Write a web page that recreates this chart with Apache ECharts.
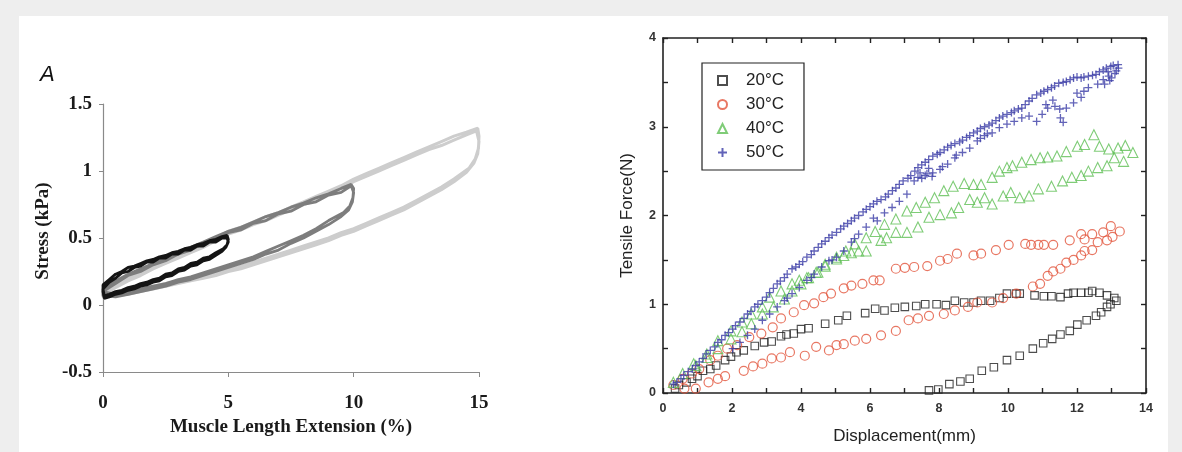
<!DOCTYPE html>
<html>
<head>
<meta charset="utf-8">
<script src="https://cdn.jsdelivr.net/npm/echarts@6/dist/echarts.min.js"></script>
<style>
html,body{margin:0;padding:0;background:#eeeeee;}
#c{width:1182px;height:452px;}
</style>
</head>
<body>
<div id="c"></div>
<script>
// ---------- Panel A: hysteresis loops (x = % extension, y = stress kPa) ----------
const loop5 = [
 [0,0.12],[0.25,0.17],[0.5,0.2],[0.75,0.24],[1,0.25],[1.25,0.28],[1.5,0.29],[1.75,0.32],[2,0.32],[2.25,0.35],[2.5,0.35],[2.75,0.38],[3,0.38],[3.25,0.41],[3.5,0.41],[3.75,0.44],[4,0.44],[4.25,0.47],[4.5,0.47],[4.75,0.5],[4.95,0.5],
 [5,0.47],[4.9,0.43],[4.75,0.40],[4.5,0.37],[4.25,0.34],[4,0.33],[3.75,0.30],[3.5,0.29],[3.25,0.26],[3,0.25],[2.75,0.22],[2.5,0.21],[2.25,0.18],[2,0.17],[1.75,0.15],[1.5,0.14],[1.25,0.12],[1,0.11],[0.75,0.09],[0.5,0.08],[0.25,0.06],[0.05,0.05],[0,0.1],
 [0,0.15],[0.25,0.19],[0.5,0.23],[0.75,0.25],[1,0.28],[1.25,0.29],[1.5,0.31],[1.75,0.33],[2,0.34],[2.25,0.36],[2.5,0.37],[2.75,0.39],[3,0.40],[3.25,0.42],[3.5,0.43],[3.75,0.45],[4,0.46],[4.25,0.48],[4.5,0.49],[4.75,0.51],[4.95,0.52],
 [5,0.49],[4.95,0.45],[4.8,0.42],[4.5,0.39],[4.25,0.36],[4,0.35],[3.75,0.32],[3.5,0.31],[3.25,0.28],[3,0.27],[2.75,0.24],[2.5,0.23],[2.25,0.20],[2,0.19],[1.75,0.17],[1.5,0.16],[1.25,0.14],[1,0.13],[0.75,0.11],[0.5,0.1],[0.25,0.08],[0.05,0.07],[0,0.12]
];
const loop10 = [
 [0,0.1],[0.5,0.16],[1,0.22],[1.5,0.25],[2,0.3],[2.5,0.33],[3,0.38],[3.5,0.41],[4,0.46],[4.5,0.49],[5,0.54],[5.5,0.56],[6,0.61],[6.5,0.63],[7,0.68],[7.5,0.70],[8,0.75],[8.5,0.77],[9,0.82],[9.5,0.84],[9.9,0.89],
 [10,0.84],[9.95,0.77],[9.8,0.71],[9.5,0.66],[9,0.60],[8.5,0.55],[8,0.50],[7.5,0.46],[7,0.41],[6.5,0.38],[6,0.34],[5.5,0.31],[5,0.28],[4.5,0.25],[4,0.22],[3.5,0.19],[3,0.17],[2.5,0.14],[2,0.12],[1.5,0.1],[1,0.08],[0.5,0.06],[0,0.07],
 [0,0.12],[0.5,0.18],[1,0.23],[1.5,0.27],[2,0.31],[2.5,0.35],[3,0.39],[3.5,0.43],[4,0.47],[4.5,0.51],[5,0.55],[5.5,0.58],[6,0.62],[6.5,0.66],[7,0.69],[7.5,0.73],[8,0.76],[8.5,0.80],[9,0.83],[9.5,0.87],[9.9,0.9],
 [10,0.87],[9.97,0.8],[9.85,0.74],[9.6,0.69],[9,0.63],[8.5,0.57],[8,0.52],[7.5,0.48],[7,0.44],[6.5,0.40],[6,0.36],[5.5,0.33],[5,0.30],[4.5,0.27],[4,0.24],[3.5,0.21],[3,0.19],[2.5,0.16],[2,0.14],[1.5,0.12],[1,0.1],[0.5,0.08],[0,0.1]
];
const loop15 = [
 [0,0.08],[0.5,0.13],[1,0.18],[1.5,0.22],[2,0.27],[2.5,0.31],[3,0.35],[3.5,0.39],[4,0.43],[4.5,0.48],[5,0.53],[5.5,0.56],[6,0.6],[6.5,0.63],[7,0.67],[7.5,0.71],[8,0.75],[8.5,0.78],[9,0.83],[9.5,0.87],[10,0.92],[10.5,0.96],[11,1.0],[11.5,1.04],[12,1.08],[12.5,1.12],[13,1.16],[13.5,1.19],[14,1.23],[14.5,1.27],[14.9,1.30],
 [15,1.22],[14.95,1.13],[14.8,1.06],[14.5,0.99],[14,0.92],[13.5,0.86],[13,0.81],[12.5,0.76],[12,0.71],[11.5,0.67],[11,0.63],[10.5,0.59],[10,0.55],[9.5,0.52],[9,0.48],[8.5,0.45],[8,0.42],[7.5,0.39],[7,0.36],[6.5,0.33],[6,0.30],[5.5,0.27],[5,0.25],[4.5,0.22],[4,0.20],[3.5,0.18],[3,0.16],[2.5,0.14],[2,0.12],[1.5,0.1],[1,0.08],[0.5,0.07],[0,0.06],
 [0,0.1],[0.5,0.15],[1,0.2],[1.5,0.24],[2,0.29],[2.5,0.33],[3,0.37],[3.5,0.41],[4,0.46],[4.5,0.5],[5,0.55],[5.5,0.58],[6,0.62],[6.5,0.66],[7,0.69],[7.5,0.73],[8,0.77],[8.5,0.81],[9,0.85],[9.5,0.89],[10,0.94],[10.5,0.98],[11,1.02],[11.5,1.06],[12,1.1],[12.5,1.14],[13,1.18],[13.5,1.22],[14,1.26],[14.5,1.29],[14.95,1.32],
 [15,1.26],[14.98,1.17],[14.85,1.09],[14.6,1.02],[14,0.94],[13.5,0.88],[13,0.83],[12.5,0.78],[12,0.73],[11.5,0.69],[11,0.65],[10.5,0.61],[10,0.57],[9.5,0.54],[9,0.50],[8.5,0.47],[8,0.44],[7.5,0.41],[7,0.38],[6.5,0.35],[6,0.32],[5.5,0.29],[5,0.27],[4.5,0.24],[4,0.22],[3.5,0.2],[3,0.18],[2.5,0.16],[2,0.14],[1.5,0.12],[1,0.1],[0.5,0.09],[0,0.08]
];

// ---------- Panel B: tensile force vs displacement ----------
const legendNames = ['20°C','30°C','40°C','50°C'];
const t20 = [
 [0.35,0.05],[0.46,0.09],[0.68,0.12],[0.84,0.16],[1.0,0.19],[1.16,0.25],[1.37,0.27],[1.54,0.31],[1.80,0.37],[1.97,0.41],[2.13,0.46],[2.34,0.48],[2.66,0.53],[2.93,0.57],[3.15,0.58],[3.42,0.64],[3.58,0.66],[3.79,0.67],[4.0,0.72],[4.22,0.73],[4.70,0.78],[5.08,0.82],[5.33,0.87],[5.86,0.90],[6.15,0.95],[6.42,0.93],[6.72,0.96],[7.01,0.97],[7.34,0.98],[7.60,1.0],[7.93,1.0],[8.2,0.99],[8.46,1.04],[8.73,1.02],[9.0,1.02],[9.22,1.04],[9.48,1.04],[9.75,1.07],[9.97,1.12],[10.24,1.12],[10.34,1.12],[10.77,1.10],[11.04,1.09],[11.26,1.09],[11.52,1.08],[11.74,1.12],[11.9,1.13],[12.12,1.13],[12.33,1.13],[12.44,1.15],[12.65,1.13],[12.87,1.10],[13.08,1.07],[13.14,1.04],
 [12.97,1.0],[12.87,0.97],[12.7,0.91],[12.55,0.87],[12.28,0.82],[12.01,0.77],[11.79,0.70],[11.52,0.66],[11.28,0.61],[11.02,0.56],[10.72,0.50],[10.34,0.42],[9.97,0.37],[9.59,0.29],[9.24,0.25],[8.89,0.16],[8.62,0.13],[8.30,0.10],[7.98,0.04],[7.71,0.03]
];
const t30 = [
 [0.30,0.09],[0.57,0.16],[0.84,0.22],[1.05,0.27],[1.37,0.37],[1.59,0.42],[1.86,0.50],[2.15,0.54],[2.50,0.63],[2.85,0.67],[3.18,0.74],[3.42,0.84],[3.79,0.91],[4.09,0.99],[4.38,1.01],[4.65,1.08],[4.87,1.12],[5.24,1.18],[5.46,1.21],[5.78,1.23],[6.10,1.27],[6.28,1.27],[6.75,1.40],[7.01,1.41],[7.28,1.42],[7.66,1.43],[8.03,1.49],[8.25,1.51],[8.52,1.57],[9.0,1.55],[9.22,1.57],[9.65,1.61],[10.02,1.67],[10.5,1.68],[10.67,1.67],[10.88,1.67],[11.04,1.67],[11.31,1.67],[11.79,1.72],[12.12,1.79],[12.22,1.73],[12.44,1.79],[12.76,1.81],[12.98,1.88],[13.24,1.82],
 [13.03,1.76],[12.87,1.72],[12.6,1.70],[12.44,1.61],[12.22,1.60],[12.12,1.55],[11.9,1.50],[11.69,1.47],[11.52,1.40],[11.31,1.37],[11.15,1.32],[10.93,1.23],[10.72,1.20],[10.24,1.12],[9.86,1.07],[9.54,1.02],[9.11,1.02],[8.84,0.97],[8.46,0.93],[8.14,0.89],[7.71,0.87],[7.39,0.84],[7.12,0.82],[6.75,0.70],[6.32,0.65],[5.89,0.61],[5.56,0.59],[5.24,0.55],[5.03,0.54],[4.81,0.48],[4.44,0.52],[4.11,0.42],[3.68,0.46],[3.42,0.40],[3.15,0.39],[2.88,0.33],[2.61,0.30],[2.34,0.25],[1.80,0.19],[1.59,0.16],[1.32,0.12],[0.95,0.05],[0.62,0.05]
];
const t40 = [
 [0.30,0.12],[0.57,0.22],[0.95,0.31],[1.27,0.40],[1.59,0.50],[1.97,0.61],[2.29,0.69],[2.56,0.78],[2.88,0.89],[3.20,0.97],[3.52,1.06],[3.74,1.15],[4.0,1.23],[4.22,1.30],[4.49,1.36],[4.70,1.43],[5.03,1.53],[5.30,1.60],[5.56,1.68],[5.89,1.75],[6.15,1.82],[6.42,1.90],[6.75,1.96],[7.07,2.05],[7.34,2.09],[7.60,2.15],[7.87,2.20],[8.14,2.28],[8.41,2.33],[8.73,2.36],[9.0,2.35],[9.22,2.35],[9.54,2.43],[9.75,2.50],[9.97,2.54],[10.13,2.56],[10.4,2.60],[10.67,2.63],[10.93,2.65],[11.15,2.66],[11.42,2.67],[11.69,2.72],[12.01,2.78],[12.22,2.80],[12.49,2.91],[12.65,2.78],[12.92,2.75],[13.19,2.76],[13.40,2.79],[13.62,2.71],
 [13.35,2.61],[13.08,2.65],[12.87,2.56],[12.6,2.54],[12.33,2.50],[12.12,2.45],[11.85,2.43],[11.58,2.39],[11.26,2.33],[10.88,2.30],[10.61,2.22],[10.34,2.20],[10.08,2.26],[9.86,2.22],[9.54,2.13],[9.32,2.20],[9.11,2.15],[8.89,2.18],[8.57,2.09],[8.36,2.03],[8.03,2.01],[7.71,1.98],[7.39,1.87],[7.07,1.81],[6.75,1.81],[6.48,1.75],[6.32,1.72],[5.89,1.60],[5.67,1.60],[5.46,1.58],[5.24,1.55],[5.03,1.51],[4.70,1.45],[4.44,1.36],[4.17,1.30],[3.95,1.27],[3.74,1.23],[3.42,1.15],[3.09,1.08],[2.88,0.97],[2.56,0.89],[2.29,0.80],[1.97,0.70],[1.59,0.59],[1.27,0.44],[0.89,0.33]
];
const t50 = [
 [0.30,0.10],[0.52,0.16],[0.73,0.24],[0.95,0.31],[1.16,0.39],[1.37,0.48],[1.59,0.57],[1.80,0.65],[2.02,0.72],[2.23,0.80],[2.45,0.89],[2.66,0.97],[2.88,1.04],[3.09,1.13],[3.31,1.23],[3.52,1.30],[3.74,1.40],[3.95,1.45],[4.17,1.53],[4.38,1.60],[4.60,1.68],[4.81,1.75],[5.03,1.81],[5.24,1.88],[5.46,1.94],[5.67,2.0],[5.89,2.07],[6.10,2.13],[6.32,2.18],[6.53,2.24],[6.75,2.31],[6.96,2.39],[7.18,2.45],[7.39,2.54],[7.60,2.60],[7.82,2.67],[8.03,2.71],[8.25,2.77],[8.46,2.81],[8.68,2.85],[8.89,2.90],[9.11,2.95],[9.32,3.0],[9.54,3.04],[9.75,3.10],[9.97,3.14],[10.18,3.18],[10.40,3.21],[10.61,3.29],[10.83,3.36],[11.04,3.40],[11.26,3.44],[11.47,3.49],[11.69,3.51],[11.90,3.55],[12.12,3.55],[12.33,3.57],[12.55,3.59],[12.76,3.64],[12.98,3.68],[13.19,3.70],
 [13.14,3.63],[12.92,3.57],[12.76,3.53],[12.6,3.48],[12.33,3.44],[12.12,3.33],[11.90,3.27],[11.69,3.21],[11.52,3.10],[11.36,3.23],[11.15,3.21],[10.99,3.14],[10.83,3.06],[10.61,3.12],[10.40,3.10],[10.18,3.06],[9.97,3.03],[9.75,2.99],[9.54,2.93],[9.32,2.90],[9.11,2.84],[8.89,2.76],[8.68,2.71],[8.46,2.65],[8.25,2.58],[8.03,2.52],[7.82,2.48],[7.60,2.45],[7.39,2.43],[7.28,2.39],[7.07,2.24],[6.85,2.16],[6.64,2.09],[6.42,2.03],[6.21,1.94],[5.89,1.87],[5.67,1.79],[5.46,1.70],[5.24,1.60],[5.03,1.53],[4.81,1.49],[4.60,1.42],[4.38,1.34],[4.17,1.27],[3.95,1.19],[3.74,1.12],[3.52,1.04],[3.31,0.97],[3.09,0.89],[2.88,0.82],[2.66,0.72],[2.45,0.65],[2.23,0.57],[2.02,0.50],
 [0.4,0.12],[0.6,0.2],[0.85,0.27],[1.05,0.35],[1.25,0.44],[1.5,0.52],[1.7,0.6],[1.9,0.68],[2.1,0.76],[2.35,0.84],[2.55,0.92],[2.75,1.0],[3.0,1.08],[3.2,1.18],[3.4,1.26],[3.6,1.34],[3.85,1.42],[4.05,1.48],[4.3,1.56],[4.5,1.64],[4.7,1.71],[4.9,1.78],[5.15,1.85],[5.35,1.91],[5.55,1.97],[5.8,2.04],[6.0,2.1],[6.2,2.16],[6.45,2.21],[6.65,2.28],[6.85,2.35],[7.1,2.42],[7.3,2.5],[7.5,2.57],[7.7,2.63],[7.95,2.69],[8.15,2.74],[8.35,2.79],[8.6,2.83],[8.8,2.88],[9.0,2.93],[9.2,2.98],[9.45,3.02],[9.65,3.07],[9.85,3.12],[10.1,3.16],[10.3,3.2],[10.5,3.25],[10.7,3.32],[10.95,3.38],[11.15,3.42],[11.35,3.46],[11.6,3.5],[11.8,3.53],[12.0,3.56],[12.2,3.56],[12.45,3.58],[12.65,3.62],[12.85,3.66],[13.05,3.69],[13.2,3.66],[13.1,3.6],[12.95,3.52],[12.8,3.48],[12.9,3.62],[13.0,3.55],
 [7.5,2.42],[7.65,2.47],[7.8,2.44],[7.45,2.48],[7.7,2.53],[11.3,3.3],[11.1,3.25],[11.5,3.2],[11.6,3.05],[12.0,3.38],[12.2,3.4],[9.2,2.87],[9.4,2.92],[8.5,2.68],[8.1,2.55],[6.1,1.97],[5.55,1.74],[4.9,1.5],[4.3,1.3],[3.6,1.07]
];

const chart = echarts.init(document.getElementById('c'), null, {renderer:'canvas'});
const serifBold = {fontFamily:'Liberation Serif', fontWeight:'bold', color:'#1a1a1a'};
const sans = 'Liberation Sans';
const plusPath = 'path://M5 0V10M0 5H10';

chart.setOption({
  animation:false,
  backgroundColor:'#eeeeee',
  graphic:[
    {type:'rect', z:-10, shape:{x:19,y:16,width:1149,height:440}, style:{fill:'#ffffff'}},
    {type:'text', left:40, top:64, style:{text:'A', font:'italic 22px "Liberation Sans"', fill:'#111'}}
  ],
  legend:{
    data:legendNames, orient:'vertical', left:702, top:63,
    backgroundColor:'#fff', borderColor:'#222', borderWidth:1.2, borderRadius:0,
    padding:[9,20,9,15], itemGap:7, itemWidth:9, itemHeight:9,
    textStyle:{fontFamily:sans, fontSize:17, color:'#222', lineHeight:17, padding:[0,0,0,14]}
  },
  grid:[
    {left:103, top:104, width:376, height:268},
    {left:663, top:38, width:483, height:355}
  ],
  xAxis:[
    {gridIndex:0, type:'value', min:0, max:15, interval:5,
     axisLine:{onZero:false, lineStyle:{color:'#8a8a8a', width:1.2}}, axisTick:{show:true, length:5, lineStyle:{color:'#8a8a8a'}},
     splitLine:{show:false}, axisLabel:Object.assign({fontSize:19, margin:22}, serifBold),
     name:'Muscle Length Extension (%)', nameLocation:'middle', nameGap:42,
     nameTextStyle:Object.assign({fontSize:19}, serifBold)},
    {gridIndex:1, type:'value', min:0, max:14, interval:1, position:'bottom',
     axisLine:{onZero:false, lineStyle:{color:'#222', width:1.6}},
     axisTick:{inside:true, length:5, lineStyle:{color:'#222', width:1.4}},
     splitLine:{show:false},
     axisLabel:{fontFamily:sans, fontWeight:'bold', fontSize:12.5, color:'#333', margin:9,
       formatter:function(v){return v%2===0 ? String(v) : '';}},
     name:'Displacement(mm)', nameLocation:'middle', nameGap:35,
     nameTextStyle:{fontFamily:sans, fontSize:17, color:'#222'}},
    {gridIndex:1, type:'value', min:0, max:14, interval:1, position:'top',
     axisLine:{onZero:false, lineStyle:{color:'#222', width:1.6}},
     axisTick:{inside:true, length:5, lineStyle:{color:'#222', width:1.4}},
     splitLine:{show:false}, axisLabel:{show:false}}
  ],
  yAxis:[
    {gridIndex:0, type:'value', min:-0.5, max:1.5, interval:0.5,
     axisLine:{show:true, onZero:false, lineStyle:{color:'#8a8a8a', width:1.2}},
     axisTick:{show:true, length:4, lineStyle:{color:'#8a8a8a'}},
     splitLine:{show:false}, axisLabel:Object.assign({fontSize:19, margin:11}, serifBold),
     name:'Stress (kPa)', nameLocation:'middle', nameGap:50, nameRotate:90,
     nameTextStyle:Object.assign({fontSize:19, padding:[0,0,0,14]}, serifBold)},
    {gridIndex:1, type:'value', min:0, max:4, interval:0.5, position:'left',
     axisLine:{show:true, onZero:false, lineStyle:{color:'#222', width:1.6}},
     axisTick:{show:true, inside:true, length:5, lineStyle:{color:'#222', width:1.4}},
     splitLine:{show:false},
     axisLabel:{fontFamily:sans, fontWeight:'bold', fontSize:12.5, color:'#333', margin:7,
       formatter:function(v){return Number.isInteger(v) ? String(v) : '';}},
     name:'Tensile Force(N)', nameLocation:'middle', nameGap:27, nameRotate:90,
     nameTextStyle:{fontFamily:sans, fontSize:17, color:'#222'}},
    {gridIndex:1, type:'value', min:0, max:4, interval:0.5, position:'right',
     axisLine:{show:true, onZero:false, lineStyle:{color:'#222', width:1.6}},
     axisTick:{show:true, inside:true, length:5, lineStyle:{color:'#222', width:1.4}},
     splitLine:{show:false}, axisLabel:{show:false}}
  ],
  series:[
    {type:'line', xAxisIndex:0, yAxisIndex:0, data:loop15, showSymbol:false, symbol:'none',
     lineStyle:{color:'#cdcdcd', width:3}, z:2},
    {type:'line', xAxisIndex:0, yAxisIndex:0, data:loop10, showSymbol:false, symbol:'none',
     lineStyle:{color:'#7d7d7d', width:2.8}, z:3},
    {type:'line', xAxisIndex:0, yAxisIndex:0, data:loop5, showSymbol:false, symbol:'none',
     lineStyle:{color:'#141414', width:2.8}, z:4},
    {name:legendNames[0], type:'scatter', xAxisIndex:1, yAxisIndex:1, data:t20, symbol:'rect', symbolSize:7.5,
     itemStyle:{color:'rgba(0,0,0,0)', borderColor:'#222', borderWidth:1.1}},
    {name:legendNames[1], type:'scatter', xAxisIndex:1, yAxisIndex:1, data:t30, symbol:'circle', symbolSize:9,
     itemStyle:{color:'rgba(0,0,0,0)', borderColor:'#e2553c', borderWidth:1.2}},
    {name:legendNames[2], type:'scatter', xAxisIndex:1, yAxisIndex:1, data:t40, symbol:'triangle', symbolSize:10,
     itemStyle:{color:'rgba(0,0,0,0)', borderColor:'#5fbf55', borderWidth:1.1}},
    {name:legendNames[3], type:'scatter', xAxisIndex:1, yAxisIndex:1, data:t50, symbol:plusPath, symbolSize:8,
     itemStyle:{color:'rgba(0,0,0,0)', borderColor:'#3b3ca6', borderWidth:1.3}}
  ]
});
</script>
</body>
</html>
